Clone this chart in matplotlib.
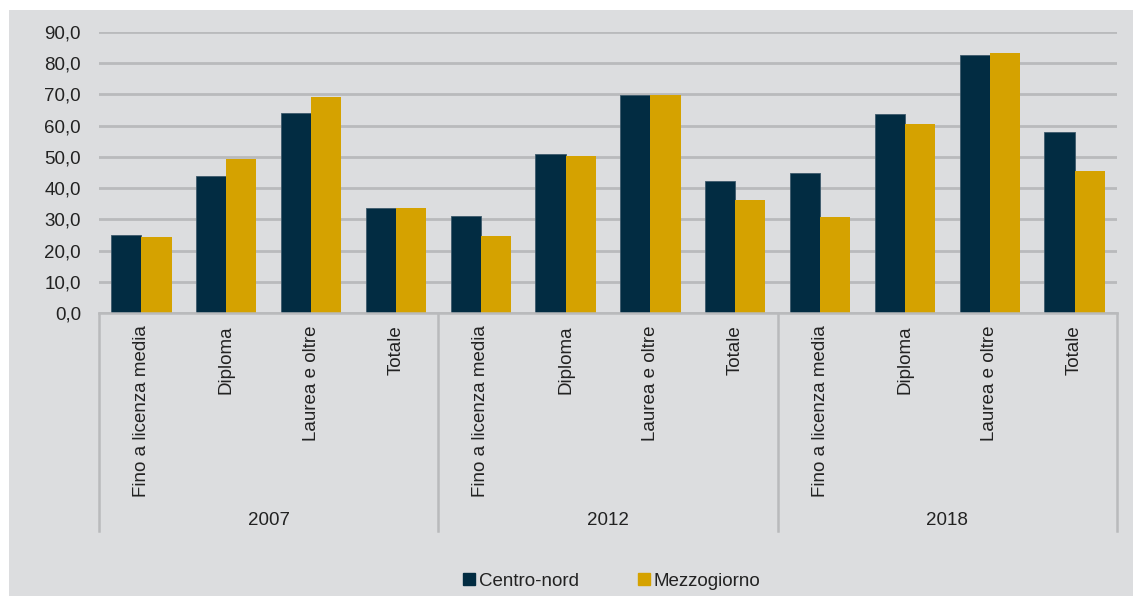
import numpy as np
from matplotlib import pyplot as plt
from matplotlib.patches import Rectangle
from matplotlib.lines import Line2D
import matplotlib.transforms as mtransforms

plt.rcParams['font.family'] = ['Liberation Sans', 'DejaVu Sans']

years = ['2007', '2012', '2018']
livelli = ['Fino a licenza media', 'Diploma', 'Laurea e oltre', 'Totale']
centro_nord = [25.1, 43.9, 63.9, 33.7,
               31.2, 50.9, 69.9, 42.3,
               44.8, 63.7, 82.7, 57.9]
mezzogiorno = [24.5, 49.3, 69.2, 33.7,
               24.8, 50.4, 69.9, 36.3,
               30.9, 60.4, 83.3, 45.6]
yticks = np.arange(0, 91, 10)

navy = '#022c42'
gold = '#d5a200'
panel = '#dcdddf'
grid = '#b9babc'
txt = '#222222'
fs = 13.5

W, H = 1133, 596
fig = plt.figure(figsize=(W / 100, H / 100), dpi=100, facecolor='white')
fig.patches.append(Rectangle((9 / W, 0), 1 - 9 / W, 1 - 10 / H,
                             transform=fig.transFigure, facecolor=panel,
                             edgecolor='none', zorder=-10))

ax = fig.add_axes([99 / W, 1 - 313 / H, 1018 / W, 281 / H])
ax.set_facecolor('none')

n = len(centro_nord)
x = np.arange(n)
bw = 0.355
ax.bar(x - bw / 2, centro_nord, bw, color=navy, edgecolor='#3d5a6b',
       linewidth=0.6, zorder=3)
ax.bar(x + bw / 2, mezzogiorno, bw, color=gold, edgecolor='none', zorder=3)

ax.set_xlim(-0.5, n - 0.5)
ax.set_ylim(0, 90)
ax.set_yticks(yticks)
ax.set_yticklabels([f'{v:.1f}'.replace('.', ',') for v in yticks],
                   fontsize=fs, color=txt)
ax.tick_params(axis='y', length=0, pad=13)
ax.set_xticks([])
ax.yaxis.grid(True, color=grid, linewidth=2, zorder=1)
ax.set_axisbelow(True)
for s in ['top', 'right', 'left']:
    ax.spines[s].set_visible(False)
ax.spines['bottom'].set_color(grid)
ax.spines['bottom'].set_linewidth(1.8)
ax.spines['bottom'].set_zorder(4)

# etichette a due livelli sotto l'asse
trans = mtransforms.blended_transform_factory(ax.transData, ax.transAxes)
for i in range(n):
    ax.text(x[i], -0.043, livelli[i % 4], rotation=90, ha='center', va='top',
            fontsize=fs, color=txt, transform=trans)
for g, yr in enumerate(years):
    ax.text(g * 4 + 1.5, -0.737, yr, ha='center', va='center',
            fontsize=fs, color=txt, transform=trans)
for b in [-0.5, 3.5, 7.5, 11.5]:
    ax.plot([b, b], [0, -0.777], color=grid, linewidth=1.8,
            transform=trans, clip_on=False)

handles = [Line2D([], [], marker='s', linestyle='none', markersize=8,
                  color=navy),
           Line2D([], [], marker='s', linestyle='none', markersize=8,
                  color=gold)]
fig.legend(handles, ['Centro-nord', 'Mezzogiorno'], loc='center',
           bbox_to_anchor=(612 / W, 1 - 581 / H), ncol=2, frameon=False,
           fontsize=fs, handlelength=0.6, handletextpad=0.2,
           columnspacing=3.2, labelcolor=txt)

fig.savefig('out.png', dpi=100, facecolor='white')
